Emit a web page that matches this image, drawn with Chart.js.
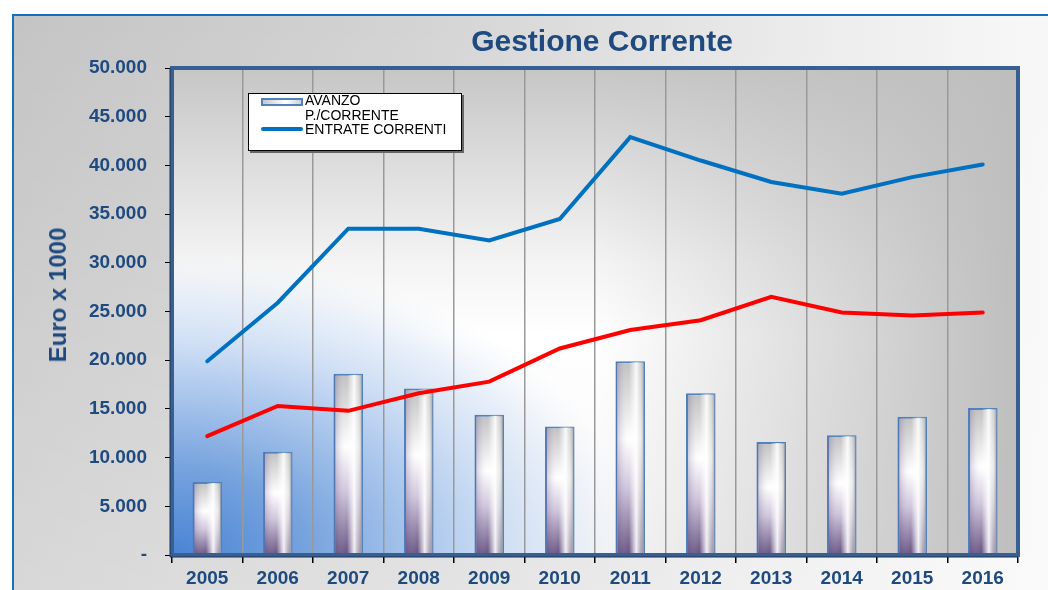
<!DOCTYPE html>
<html>
<head>
<meta charset="utf-8">
<script src="https://cdn.jsdelivr.net/npm/chart.js@4"></script>
<style>
html, body { margin: 0; padding: 0; background: #fff; }
#wrap { position: relative; width: 1048px; height: 590px; overflow: hidden; font-family: "Liberation Sans", Arial, sans-serif; }
#frame {
    position: absolute; left: 12px; top: 14px; width: 1040px; height: 600px;
    border-top: 2px solid #1570c0; border-left: 2px solid #1570c0;
    background:
        linear-gradient(to bottom, rgba(255,255,255,0) 0%, rgba(255,255,255,0.35) 100%),
        linear-gradient(to right, #c4c4c4 0%, #d4d4d4 40%, #ebebeb 75%, #f8f8f8 100%);
}
#grafico { position: absolute; left: 0; top: 0; }
#titolo {
    position: absolute; left: 402px; width: 400px; top: 24px; text-align: center;
    font-size: 30px; font-weight: bold; color: #1f4a80; white-space: nowrap;
}
#asseY {
    position: absolute; left: 58px; top: 295px; transform: translate(-50%, -50%) rotate(-90deg);
    font-size: 24px; font-weight: bold; color: #1f4a80; white-space: nowrap;
}
#legenda {
    position: absolute; left: 248px; top: 93px; width: 212px; height: 56px;
    background: #fff; border: 1px solid #000; box-shadow: 2px 2px 0 #666;
    font-size: 14px; color: #000;
}
#legenda .voce { position: absolute; left: 56px; line-height: 15px; white-space: nowrap; }
#swBar {
    position: absolute; left: 12px; top: 4px; width: 38px; height: 4px;
    border: 2px solid #4f81bd; background: linear-gradient(to right, #c8c8c8, #ffffff 60%, #d0d0d0);
}
#swLine { position: absolute; left: 12px; top: 33px; width: 42px; height: 4px; background: #0070c0; border-radius: 2px; }
</style>
</head>
<body>
<div id="wrap">
    <div id="frame"></div>
    <canvas id="grafico" width="1048" height="590"></canvas>
    <div id="titolo">Gestione Corrente</div>
    <div id="asseY">Euro x 1000</div>
    <div id="legenda">
        <div id="swBar"></div>
        <div class="voce" style="top:-1px">AVANZO</div>
        <div class="voce" style="top:14px">P./CORRENTE</div>
        <div id="swLine"></div>
        <div class="voce" style="top:28px">ENTRATE CORRENTI</div>
    </div>
</div>
<script>
// dati (Euro x 1000)
const anni = ['2005', '2006', '2007', '2008', '2009', '2010', '2011', '2012', '2013', '2014', '2015', '2016'];
const avanzo = [7500, 10600, 18600, 17100, 14400, 13200, 19900, 16600, 11600, 12300, 14200, 15100];
const entrate = [19900, 25900, 33500, 33500, 32300, 34500, 42900, 40500, 38300, 37100, 38800, 40100];
const spese = [12200, 15300, 14800, 16600, 17800, 21200, 23100, 24100, 26500, 24900, 24600, 24900];

const blu = '#1f4a80';

function formatta(v) {
    if (v === 0) return '-';
    return String(v).replace(/\B(?=(\d{3})+(?!\d))/g, '.');
}

// sfondo area del grafico: grigio in alto e a destra, blu in basso a sinistra
const sfondoPlot = {
    id: 'sfondoPlot',
    beforeDraw(chart) {
        const { ctx, chartArea: a } = chart;
        const w = a.right - a.left, h = a.bottom - a.top;
        ctx.save();
        let g = ctx.createLinearGradient(0, a.top, 0, a.bottom);
        g.addColorStop(0, '#c6c6c6');
        g.addColorStop(0.4, '#f4f4f4');
        g.addColorStop(0.55, '#ffffff');
        g.addColorStop(1, '#f6f6f6');
        ctx.fillStyle = g;
        ctx.fillRect(a.left, a.top, w, h);

        g = ctx.createLinearGradient(a.left, 0, a.right, 0);
        g.addColorStop(0, 'rgba(192,192,192,0)');
        g.addColorStop(0.5, 'rgba(192,192,192,0)');
        g.addColorStop(1, 'rgba(190,190,190,1)');
        ctx.fillStyle = g;
        ctx.fillRect(a.left, a.top, w, h);

        ctx.beginPath();
        ctx.rect(a.left, a.top, w, h);
        ctx.clip();
        ctx.translate(a.left, a.bottom);
        ctx.scale(1.55, 1);
        const r = 300;
        g = ctx.createRadialGradient(0, 0, 0, 0, 0, r);
        g.addColorStop(0, 'rgba(72,132,212,1)');
        g.addColorStop(0.3, 'rgba(120,164,222,1)');
        g.addColorStop(0.6, 'rgba(180,205,239,0.95)');
        g.addColorStop(0.85, 'rgba(215,228,246,0.6)');
        g.addColorStop(1, 'rgba(230,238,250,0)');
        ctx.fillStyle = g;
        ctx.fillRect(0, -r, r, r);
        ctx.restore();
    }
};

// riflesso sulle barre + cornice spessa
const rifiniture = {
    id: 'rifiniture',
    afterDatasetDraw(chart, args) {
        if (args.index !== 0) return;
        const ctx = chart.ctx;
        ctx.save();
        args.meta.data.forEach(bar => {
            const { x, y, base, width } = bar.getProps(['x', 'y', 'base', 'width'], true);
            const l = x - width / 2 + 1, r = x + width / 2 - 1;
            const g = ctx.createLinearGradient(l, 0, r, 0);
            g.addColorStop(0, 'rgba(90,70,130,0.3)');
            g.addColorStop(0.45, 'rgba(255,255,255,0)');
            g.addColorStop(0.72, 'rgba(255,255,255,0.9)');
            g.addColorStop(0.88, 'rgba(225,225,225,0.6)');
            g.addColorStop(1, 'rgba(160,160,160,0.7)');
            ctx.fillStyle = g;
            ctx.fillRect(l, y + 1, r - l, base - y - 1);
        });
        ctx.restore();
    },
    afterDraw(chart) {
        const { ctx, chartArea: a } = chart;
        ctx.save();
        ctx.strokeStyle = '#375f90';
        ctx.lineWidth = 4;
        ctx.strokeRect(a.left, a.top, a.right - a.left, a.bottom - a.top);
        ctx.strokeStyle = '#1c3558';
        ctx.lineWidth = 1;
        ctx.beginPath();
        ctx.moveTo(a.left - 2, a.top);
        ctx.lineTo(a.left - 2, a.bottom + 2);
        ctx.lineTo(a.right, a.bottom + 2);
        ctx.stroke();
        ctx.restore();
    }
};

new Chart(document.getElementById('grafico'), {
    type: 'bar',
    data: {
        labels: anni,
        datasets: [
            {
                label: 'AVANZO P./CORRENTE',
                data: avanzo,
                order: 3,
                borderColor: '#4f81bd',
                borderWidth: 2,
                barPercentage: 0.42,
                categoryPercentage: 1,
                backgroundColor: c => {
                    const ch = c.chart;
                    if (!ch.chartArea || c.type !== 'data') return '#e0e0e0';
                    const yTop = ch.scales.y.getPixelForValue(c.raw);
                    const yBase = ch.scales.y.getPixelForValue(0);
                    const g = ch.ctx.createLinearGradient(0, yTop, 0, yBase);
                    g.addColorStop(0, '#c0c0c0');
                    g.addColorStop(0.4, '#ffffff');
                    g.addColorStop(0.65, '#d0c6dc');
                    g.addColorStop(1, '#64507f');
                    return g;
                }
            },
            {
                type: 'line',
                label: 'ENTRATE CORRENTI',
                data: entrate,
                order: 2,
                borderColor: '#0070c0',
                borderWidth: 4,
                pointRadius: 0,
                tension: 0,
                borderCapStyle: 'round'
            },
            {
                type: 'line',
                label: 'SPESE CORRENTI',
                data: spese,
                order: 1,
                borderColor: '#ff0000',
                borderWidth: 4,
                pointRadius: 0,
                tension: 0,
                borderCapStyle: 'round'
            }
        ]
    },
    options: {
        responsive: false,
        animation: false,
        devicePixelRatio: 1,
        layout: { padding: { top: 68, right: 30, left: 0, bottom: 0 } },
        plugins: {
            legend: { display: false },
            title: { display: false },
            tooltip: { enabled: false }
        },
        scales: {
            x: {
                offset: true,
                border: { display: false },
                grid: { color: '#999999', lineWidth: 1.5, tickLength: 8, tickColor: '#000', offset: true },
                ticks: { color: blu, padding: 4, font: { family: 'Liberation Sans', size: 19, weight: 'bold' } },
                afterFit: s => { s.height = 35; }
            },
            y: {
                min: 0,
                max: 50000,
                border: { display: false },
                grid: { drawOnChartArea: false, tickLength: 7, tickColor: '#000' },
                ticks: {
                    stepSize: 5000,
                    color: blu,
                    padding: 18,
                    font: { family: 'Liberation Sans', size: 19, weight: 'bold' },
                    callback: v => formatta(v)
                },
                afterFit: s => { s.width = 172; }
            }
        }
    },
    plugins: [sfondoPlot, rifiniture]
});
</script>
</body>
</html>
